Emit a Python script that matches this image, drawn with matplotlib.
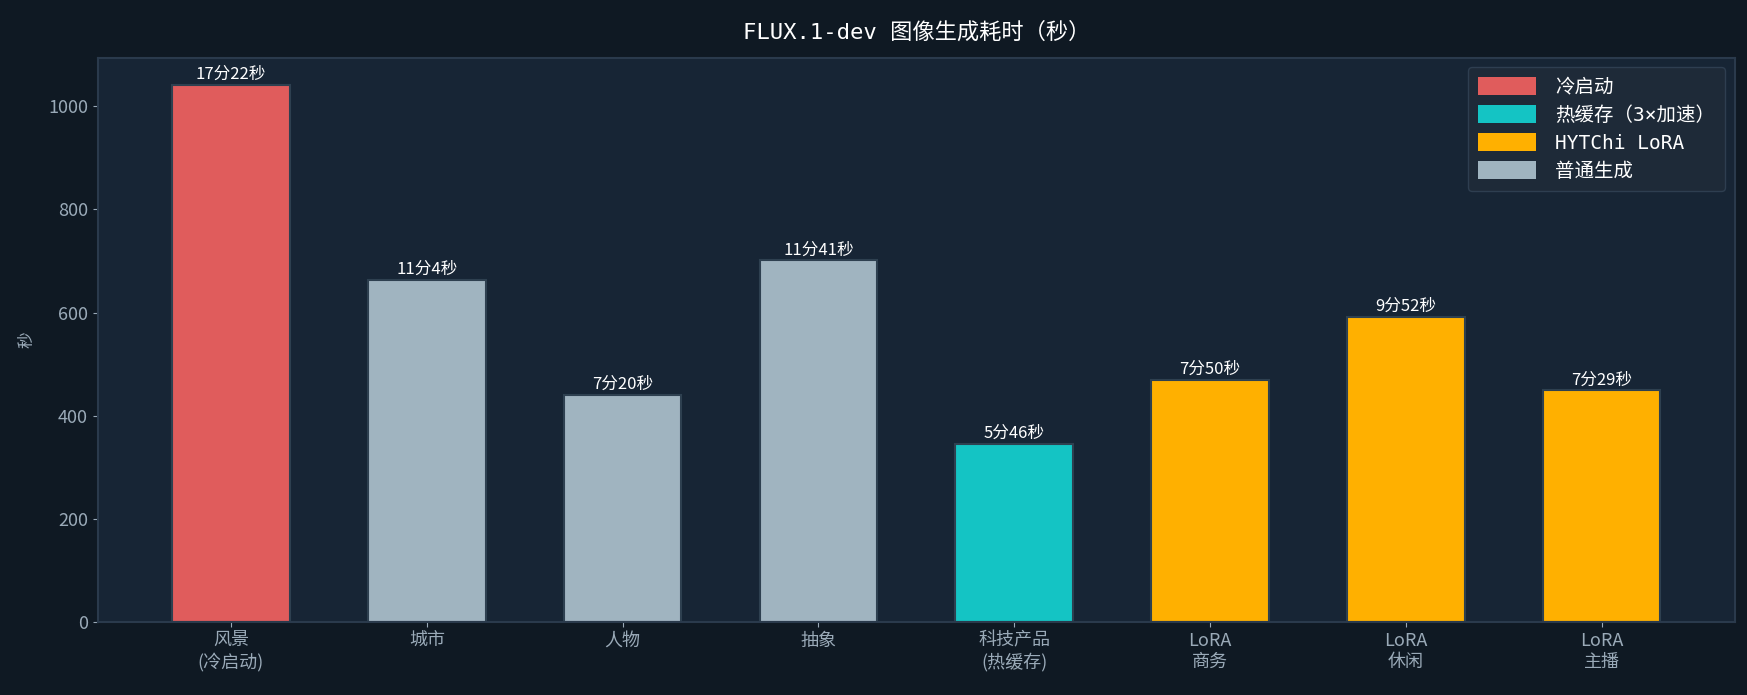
import matplotlib
matplotlib.use("Agg")
import matplotlib.pyplot as plt
from matplotlib.patches import Patch

plt.rcParams["font.family"] = ["Noto Sans CJK SC", "DejaVu Sans"]

# data
categories = ["风景\n(冷启动)", "城市", "人物", "抽象", "科技产品\n(热缓存)",
              "LoRA\n商务", "LoRA\n休闲", "LoRA\n主播"]
seconds = [1042, 664, 440, 701, 346, 470, 592, 449]
kinds = ["cold", "normal", "normal", "normal", "hot", "lora", "lora", "lora"]

colors = {"cold": "#E05C5C", "hot": "#14C4C4", "lora": "#FFB000", "normal": "#A0B4C0"}
legend_names = [("cold", "冷启动"), ("hot", "热缓存（3×加速）"),
                ("lora", "HYTChi LoRA"), ("normal", "普通生成")]

fig_bg = "#0F1923"
ax_bg = "#172535"
grid_c = "#2A3A4C"
tick_c = "#9AAAB8"

fig, ax = plt.subplots(figsize=(17.47, 6.95), dpi=100)
fig.patch.set_facecolor(fig_bg)
ax.set_facecolor(ax_bg)

x = range(len(categories))
bars = ax.bar(x, seconds, width=0.6, color=[colors[k] for k in kinds],
              edgecolor="#2E4050", linewidth=1.5)

for b, s in zip(bars, seconds):
    m, sec = divmod(s, 60)
    ax.text(b.get_x() + b.get_width() / 2, b.get_height() + 4, f"{m}分{sec}秒",
            ha="center", va="bottom", color="white", fontsize=12)

ax.set_xticks(list(x))
ax.set_xticklabels(categories, fontsize=13, color=tick_c, linespacing=1.2)
ax.tick_params(axis="y", labelsize=13, colors=tick_c)
ax.tick_params(axis="x", colors=tick_c)
ax.set_ylim(0, 1094)
ax.set_ylabel("秒", color=tick_c, fontsize=12, labelpad=9)

for sp in ax.spines.values():
    sp.set_color(grid_c)
    sp.set_linewidth(1.5)

ax.set_title("FLUX.1-dev 图像生成耗时（秒）", color="white", fontsize=16, pad=14,
             family=["DejaVu Sans Mono", "Noto Sans CJK SC"])

handles = [Patch(facecolor=colors[k], label=n) for k, n in legend_names]
leg = ax.legend(handles=handles, loc="upper right", facecolor="#1E2A38",
                edgecolor="#2E3E50", labelcolor="white",
                framealpha=1.0, handlelength=3.0, handleheight=1.0,
                handletextpad=1.0, borderpad=0.5, labelspacing=0.45,
                prop={"family": ["DejaVu Sans Mono", "Noto Sans CJK SC"], "size": 14})

fig.subplots_adjust(left=0.056, right=0.993, top=0.917, bottom=0.105)
fig.savefig("out.png", facecolor=fig_bg)
